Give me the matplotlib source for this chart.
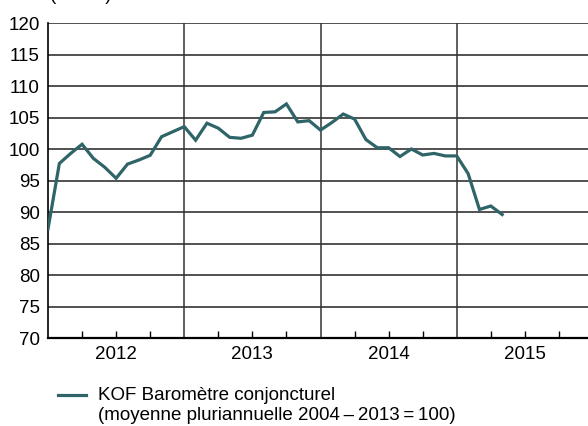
import matplotlib
matplotlib.use("Agg")
import matplotlib.pyplot as plt
from matplotlib.lines import Line2D
import numpy as np

plt.rcParams["font.family"] = ["Liberation Sans", "DejaVu Sans"]

# monthly KOF values, starting January 2012
start_year = 2012
kof = [
    87.3, 97.7, 99.3, 100.75, 98.5, 97.1, 95.35, 97.6, 98.25, 99.0, 101.95, 102.75,
    103.55, 101.4, 104.1, 103.3, 101.85, 101.7, 102.2, 105.8, 105.9, 107.15, 104.3, 104.5,
    103.0, 104.2, 105.55, 104.75, 101.5, 100.2, 100.2, 98.8, 100.0, 99.05, 99.3, 98.9,
    98.9, 96.1, 90.4, 90.95, 89.6,
]
years = [2012, 2013, 2014, 2015]
y_ticks = list(range(70, 121, 5))
legend_lines = ["KOF Baromètre conjoncturel",
                "(moyenne pluriannuelle 2004\u2009–\u20092013\u2009=\u2009100)"]

line_color = "#2f6468"
fs = 13.5
W, H = 588, 426

fig = plt.figure(figsize=(W / 100, H / 100), dpi=100)
ax = fig.add_axes([48 / W, 88 / H, 545 / W, 315 / H])

x = start_year + np.arange(len(kof)) / 12
ax.plot(x, kof, color=line_color, lw=2.3, solid_joinstyle="miter", zorder=3)

ax.set_xlim(2012, 2016)
ax.set_ylim(70, 120)

# horizontal grid
for v in y_ticks[1:]:
    ax.axhline(v, color="#222222", lw=1.1, zorder=1)
# year separators
for yr in years[1:]:
    ax.axvline(yr, color="#333333", lw=1.1, zorder=1)

ax.set_yticks(y_ticks)
ax.tick_params(axis="y", length=0, labelsize=fs, pad=6)

# year labels at mid-year (major), other quarters as minor ticks
ax.set_xticks([yr + 0.5 for yr in years])
ax.set_xticklabels([str(yr) for yr in years])
ax.set_xticks([yr + q for yr in years for q in (0.25, 0.75)], minor=True)
ax.tick_params(axis="x", which="both", direction="in", length=5, width=1,
               color="black", labelsize=fs, pad=6)

for side in ["top", "right"]:
    ax.spines[side].set_visible(False)
ax.spines["left"].set_linewidth(1.2)
ax.spines["bottom"].set_linewidth(1.6)

fig.text(50 / W, 1.0, "(Indice)", fontsize=fs, va="baseline", ha="left")

# legend drawn by hand so the key sits on the first text line
fig.add_artist(Line2D([58 / W, 86 / W], [1 - 395 / H, 1 - 395 / H],
                      color=line_color, lw=2.3, transform=fig.transFigure))
for i, txt in enumerate(legend_lines):
    fig.text(98 / W, 1 - (395 + 20 * i) / H, txt, fontsize=fs, va="center", ha="left")

fig.savefig("out.png", dpi=100)
